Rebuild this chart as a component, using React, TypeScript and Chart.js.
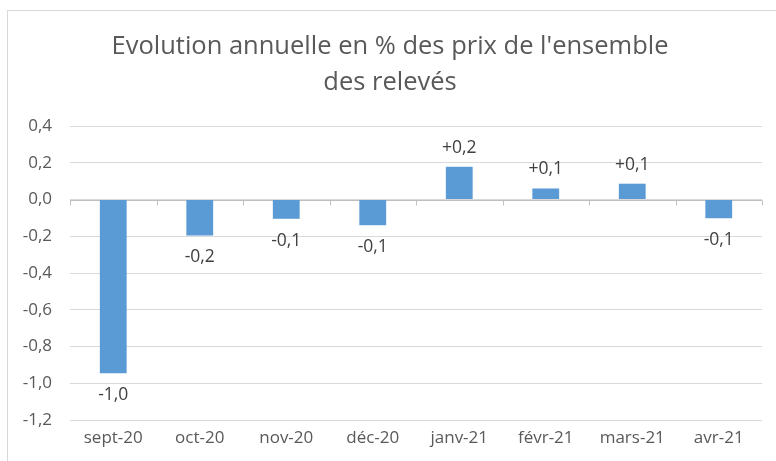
import React, { useEffect, useRef } from "react";
import { Chart, registerables } from "chart.js";

Chart.register(...registerables);

const categories = ["sept-20", "oct-20", "nov-20", "déc-20", "janv-21", "févr-21", "mars-21", "avr-21"];
const values = [-0.945, -0.196, -0.105, -0.14, 0.178, 0.06, 0.086, -0.102];
const valueLabels = ["-1,0", "-0,2", "-0,1", "-0,1", "+0,2", "+0,1", "+0,1", "-0,1"];
const titleLines = ["Evolution annuelle en % des prix de l'ensemble", "des relevés"];
const yMin = -1.2;
const yMax = 0.4;
const yStep = 0.2;

const FONT = "'Open Sans', 'Liberation Sans', sans-serif";

const zeroAxisPlugin = {
  id: "zeroAxis",
  beforeDatasetsDraw(chart: any) {
    const { ctx, chartArea, scales } = chart;
    const y = Math.round(scales.y.getPixelForValue(0)) + 0.5;
    ctx.save();
    ctx.strokeStyle = "#bfbfbf";
    ctx.lineWidth = 1;
    ctx.beginPath();
    ctx.moveTo(chartArea.left, y);
    ctx.lineTo(chartArea.right, y);
    const n = categories.length;
    const w = (chartArea.right - chartArea.left) / n;
    for (let i = 0; i <= n; i++) {
      const x = Math.round(chartArea.left + i * w) + 0.5;
      ctx.moveTo(x, y);
      ctx.lineTo(x, y + 5);
    }
    ctx.stroke();
    ctx.restore();
  },
};

const labelPlugin = {
  id: "valueLabels",
  afterDatasetsDraw(chart: any) {
    const { ctx } = chart;
    const meta = chart.getDatasetMeta(0);
    ctx.save();
    ctx.font = `17.5px ${FONT}`;
    ctx.fillStyle = "#404040";
    ctx.textAlign = "center";
    ctx.textBaseline = "middle";
    meta.data.forEach((bar: any, i: number) => {
      const v = values[i];
      const y = v >= 0 ? bar.y - 19 : bar.y + 22;
      ctx.fillText(valueLabels[i], bar.x, y);
    });
    ctx.restore();
  },
};

export default function App() {
  const ref = useRef<HTMLCanvasElement>(null);
  useEffect(() => {
    if (!ref.current) return;
    const chart = new Chart(ref.current, {
      type: "bar",
      data: {
        labels: categories,
        datasets: [
          {
            data: values,
            backgroundColor: "#5b9bd5",
            borderWidth: 0,
            categoryPercentage: 1,
            barPercentage: 0.31,
          },
        ],
      },
      options: {
        animation: false,
        responsive: false,
        layout: { padding: { left: 18, right: 14, top: 0, bottom: 0 } },
        plugins: {
          legend: { display: false },
          tooltip: { enabled: false },
          title: {
            display: true,
            text: titleLines,
            color: "#595959",
            font: { family: FONT, size: 25.5, weight: "normal", lineHeight: 36 / 25.5 },
            padding: { top: 29, bottom: 25 },
          },
        },
        scales: {
          x: {
            grid: { display: false, drawTicks: false },
            border: { display: false },
            ticks: { color: "#595959", font: { family: FONT, size: 17 }, padding: 8, maxRotation: 0 },
            afterFit: (s: any) => {
              s.height = 41;
            },
          },
          y: {
            min: yMin,
            max: yMax,
            grid: { color: "#d9d9d9", drawTicks: false },
            border: { display: false },
            ticks: {
              stepSize: yStep,
              color: "#595959",
              font: { family: FONT, size: 17 },
              padding: 18,
              callback: (v: any) => Number(v).toFixed(1).replace(".", ","),
            },
            afterFit: (s: any) => {
              s.width = 52;
            },
          },
        },
      },
      plugins: [zeroAxisPlugin, labelPlugin],
    });
    return () => chart.destroy();
  }, []);
  return (
    <div style={{ position: "fixed", left: 0, top: 0, width: 776, height: 461, background: "#fff", overflow: "hidden" }}>
      <div
        style={{
          position: "absolute",
          left: 7,
          top: 10,
          width: 900,
          height: 600,
          borderTop: "1px solid #d9d9d9",
          borderLeft: "1px solid #d9d9d9",
        }}
      />
      <canvas ref={ref} width={776} height={461} style={{ position: "absolute", left: 0, top: 0 }} />
    </div>
  );
}
